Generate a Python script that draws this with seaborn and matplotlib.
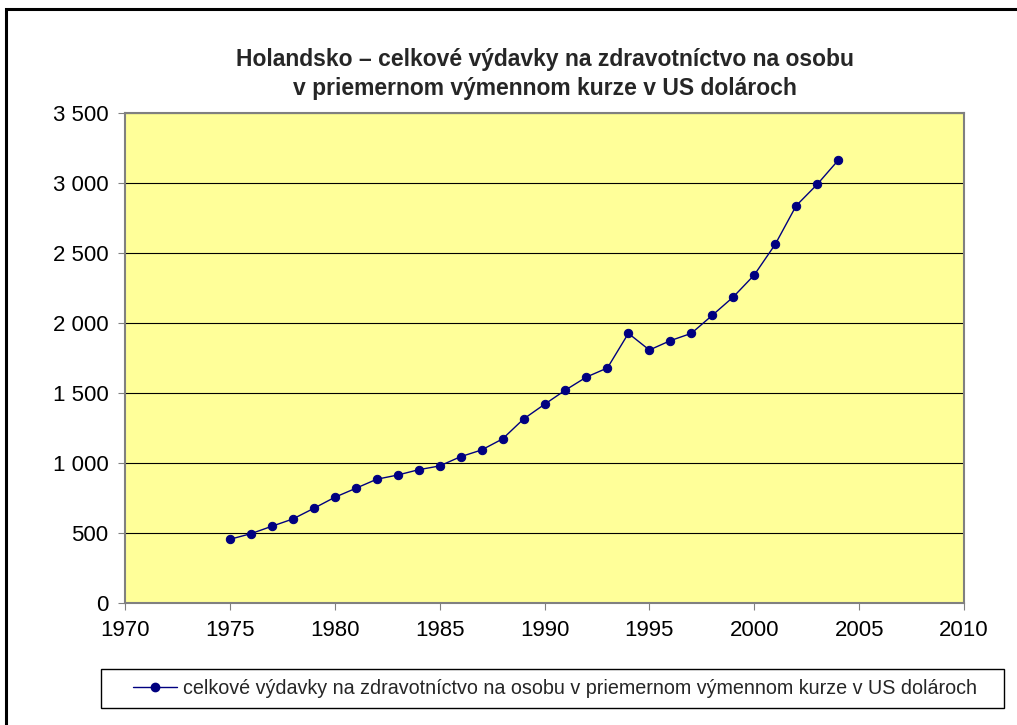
import pandas as pd
import matplotlib.pyplot as plt
import matplotlib.ticker as mticker
from matplotlib.patches import Rectangle
import seaborn as sns

# Data
YEARS = [1975, 1976, 1977, 1978, 1979, 1980, 1981, 1982, 1983, 1984,
         1985, 1986, 1987, 1988, 1989, 1990, 1991, 1992, 1993, 1994,
         1995, 1996, 1997, 1998, 1999, 2000, 2001, 2002, 2003, 2004]
SPENDING = [455, 495, 548, 600, 676, 755, 819, 884, 914, 952,
            979, 1045, 1093, 1172, 1314, 1419, 1521, 1614, 1679, 1926,
            1807, 1874, 1926, 2055, 2186, 2343, 2562, 2838, 2990, 3162]
X_TICKS = [1970, 1975, 1980, 1985, 1990, 1995, 2000, 2005, 2010]
Y_TICKS = [0, 500, 1000, 1500, 2000, 2500, 3000, 3500]

TITLE = "Holandsko – celkové výdavky na zdravotníctvo na osobu\nv priemernom výmennom kurze v US dolároch"
SERIES = "celkové výdavky na zdravotníctvo na osobu v priemernom výmennom kurze v US dolároch"

NAVY = "#000080"
PLOT_BG = "#FFFF99"
GREY = "#808080"

sns.set_style("white")
plt.rcParams["font.family"] = ["Liberation Sans", "DejaVu Sans"]

df = pd.DataFrame({"year": YEARS, "value": SPENDING})

W, H = 1017, 725
fig = plt.figure(figsize=(W / 100, H / 100), dpi=100)
fig.patch.set_facecolor("white")

# outer chart border (runs off the right/bottom edge like the source)
fig.patches.append(Rectangle((6 / W, -0.02), 1.05, 1 - 9 / H + 0.02,
                             transform=fig.transFigure, fill=False,
                             edgecolor="black", lw=2.2))

ax = fig.add_axes([125 / W, 1 - 603 / H, (964 - 125) / W, (603 - 113) / H])
ax.set_facecolor(PLOT_BG)

sns.lineplot(data=df, x="year", y="value", ax=ax, color=NAVY, lw=1.0,
             marker="o", markersize=6, markeredgecolor=NAVY,
             markerfacecolor=NAVY, legend=False, zorder=3)

ax.set_xlim(1970, 2010)
ax.set_ylim(0, 3500)
ax.set_xticks(X_TICKS)
ax.set_yticks(Y_TICKS)
ax.yaxis.set_major_formatter(mticker.FuncFormatter(lambda v, _: f"{int(v):,}".replace(",", " ")))
ax.grid(axis="y", color="black", lw=0.8)
ax.grid(axis="x", visible=False)
ax.set_axisbelow(True)
ax.set_xlabel("")
ax.set_ylabel("")
ax.tick_params(axis="both", direction="out", length=5, width=0.8,
               color=GREY, labelsize=16, labelcolor="black", pad=7,
               bottom=True, left=True)
for s in ax.spines.values():
    s.set_color(GREY)
    s.set_linewidth(1.5)

fig.text(545 / W, 1 - 74 / H, TITLE, ha="center", va="center",
         fontsize=16.5, fontweight="bold", linespacing=1.35)

# legend box
fig.patches.append(Rectangle((101 / W, 1 - 708 / H), (1004 - 101) / W, 39 / H,
                             transform=fig.transFigure, fill=False,
                             edgecolor="black", lw=1.0))
h, = ax.plot([], [], color=NAVY, lw=1.0, marker="o", markersize=6)
fig.legend([h], [SERIES], loc="center", bbox_to_anchor=(555 / W, 1 - 688.5 / H),
           frameon=False, fontsize=14.2, handlelength=2.2, handletextpad=0.3)

fig.savefig("out.png", dpi=100)
